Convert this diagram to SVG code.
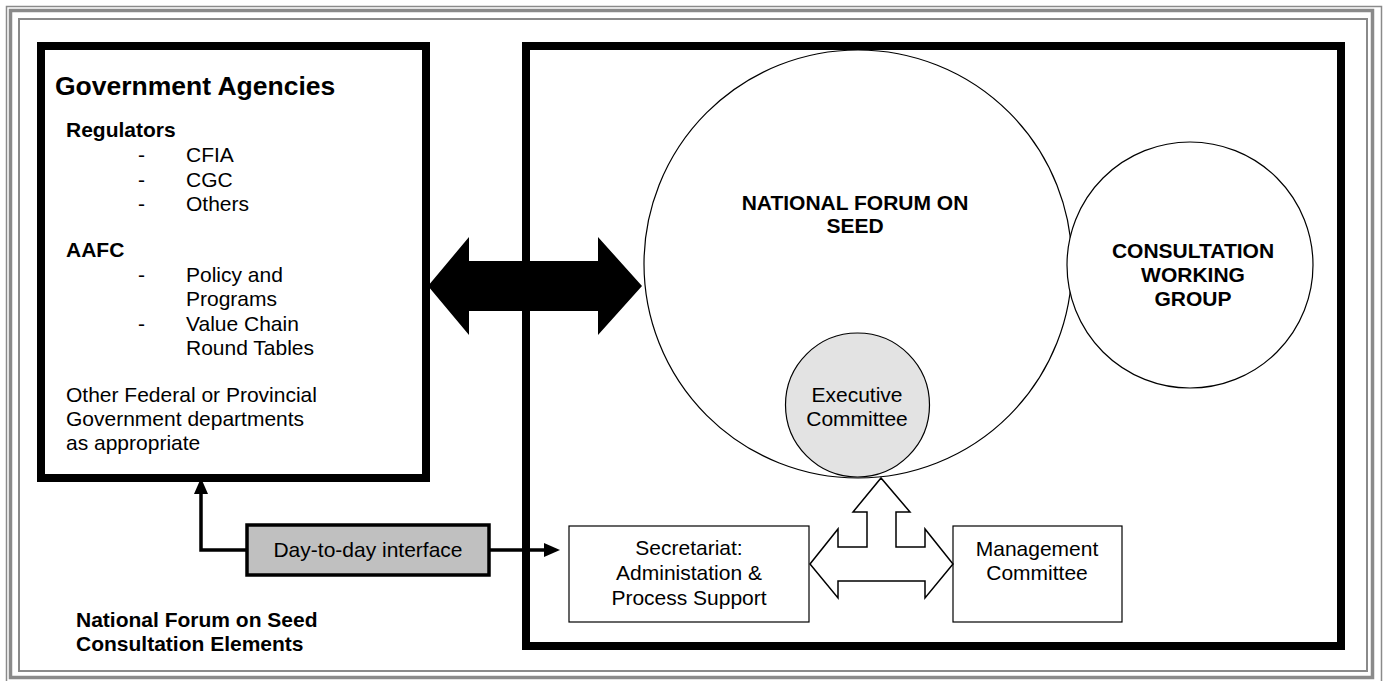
<svg xmlns="http://www.w3.org/2000/svg" width="1390" height="681" viewBox="0 0 1390 681">
<defs>
<style>
.t{font-family:"Liberation Sans",Arial,sans-serif;font-size:21px;fill:#000}
.b{font-weight:bold}
.c{text-anchor:middle}
.frame{fill:none;stroke:#8a8a8a}
.thick{fill:#fff;stroke:#000;stroke-width:8}
.thin{stroke:#000;stroke-width:1.2}
.conn{fill:none;stroke:#000;stroke-width:3.5}
</style>
<marker id="ah" viewBox="0 0 16 14" refX="0" refY="7" markerWidth="16" markerHeight="14" markerUnits="userSpaceOnUse" orient="auto">
<path d="M0,0 L16,7 L0,14 Z" fill="#000"/>
</marker>
</defs>
<rect width="1390" height="681" fill="#fff"/>
<g id="frame">
<rect class="frame" x="6.5" y="6.5" width="1375" height="690" stroke-width="1.5"/>
<rect class="frame" x="10.5" y="10.5" width="1362" height="667" stroke-width="3.5"/>
<rect class="frame" x="19" y="19" width="1348" height="652" stroke-width="2"/>
</g>
<g id="government-agencies">
<rect class="thick" x="41" y="46" width="385" height="432"/>
<text class="t b" x="55" y="95" style="font-size:26.5px">Government Agencies</text>
<text class="t b" x="66" y="137">Regulators</text>
<text class="t" x="138" y="162">-</text><text class="t" x="186" y="162">CFIA</text>
<text class="t" x="138" y="187">-</text><text class="t" x="186" y="187">CGC</text>
<text class="t" x="138" y="211">-</text><text class="t" x="186" y="211">Others</text>
<text class="t b" x="66" y="257">AAFC</text>
<text class="t" x="138" y="282">-</text><text class="t" x="186" y="282">Policy and</text>
<text class="t" x="186" y="306">Programs</text>
<text class="t" x="138" y="331">-</text><text class="t" x="186" y="331">Value Chain</text>
<text class="t" x="186" y="355">Round Tables</text>
<text class="t" x="66" y="402">Other Federal or Provincial</text>
<text class="t" x="66" y="426">Government departments</text>
<text class="t" x="66" y="450">as appropriate</text>
</g>
<g id="forum-container">
<rect class="thick" x="526" y="46" width="815" height="600"/>
</g>
<g id="national-forum">
<circle class="thin" cx="858" cy="264" r="214" fill="#fff"/>
<text class="t b c" x="855" y="210">NATIONAL FORUM ON</text>
<text class="t b c" x="855" y="233">SEED</text>
</g>
<g id="consultation-working-group">
<circle class="thin" cx="1190" cy="265" r="123" fill="#fff"/>
<text class="t b c" x="1193" y="258">CONSULTATION</text>
<text class="t b c" x="1193" y="282">WORKING</text>
<text class="t b c" x="1193" y="306">GROUP</text>
</g>
<g id="executive-committee">
<circle class="thin" cx="857.5" cy="405" r="72" fill="#e3e3e3"/>
<text class="t c" x="857" y="402">Executive</text>
<text class="t c" x="857" y="426">Committee</text>
</g>
<g id="secretariat">
<rect class="thin" x="569" y="526" width="240" height="96" fill="#fff" stroke-width="1.5"/>
<text class="t c" x="689" y="555">Secretariat:</text>
<text class="t c" x="689" y="580">Administation &amp;</text>
<text class="t c" x="689" y="605">Process Support</text>
</g>
<g id="management-committee">
<rect class="thin" x="953" y="526" width="169" height="96" fill="#fff" stroke-width="1.5"/>
<text class="t c" x="1037" y="556">Management</text>
<text class="t c" x="1037" y="580">Committee</text>
</g>
<g id="day-to-day">
<rect x="247" y="525" width="242" height="50" fill="#c0c0c0" stroke="#000" stroke-width="3.5"/>
<text class="t c" x="368" y="557">Day-to-day interface</text>
</g>
<g id="title">
<text class="t b" x="76" y="627">National Forum on Seed</text>
<text class="t b" x="76" y="651">Consultation Elements</text>
</g>
<g id="connectors">
<polygon points="428,286 469,237 469,261 598,261 598,237 642,286 598,335 598,311 469,311 469,335" fill="#000"/>
<polygon points="810,564 838,529 838,547 867,547 867,512 853,512 881,478 910,512 896,512 896,547 925,547 925,529 953,564 925,598 925,581 838,581 838,598" fill="#fff" stroke="#000" stroke-width="1.5" stroke-linejoin="miter"/>
<polyline class="conn" points="247,550 201,550 201,494" marker-end="url(#ah)"/>
<polyline class="conn" points="489,550 544,550" marker-end="url(#ah)"/>
</g>
</svg>
